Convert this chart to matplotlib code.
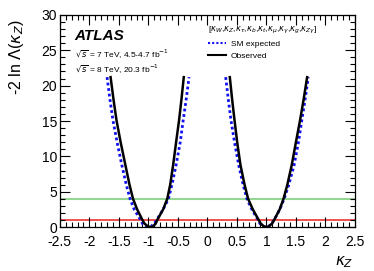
import matplotlib
matplotlib.use('Agg')
import matplotlib.pyplot as plt
from matplotlib.ticker import MultipleLocator, FormatStrFormatter
from matplotlib.lines import Line2D

plt.rcParams['font.family'] = ['Liberation Sans', 'DejaVu Sans']

# -2 ln Lambda values (two separate minima per curve)
nll_levels = [21.2, 18, 15.1, 12, 8.8, 6, 4, 2.5, 1, 0.5, 0.1, 0,
              0.1, 0.5, 1, 2.5, 4, 6, 8.8, 12, 15.1, 18, 21.2]

obs_kz_neg = [-1.64, -1.59, -1.54, -1.47, -1.39, -1.32, -1.26, -1.19, -1.10, -1.065, -1.01, -0.96,
              -0.92, -0.875, -0.85, -0.75, -0.68, -0.63, -0.58, -0.53, -0.48, -0.44, -0.40]
obs_kz_pos = [0.38, 0.42, 0.46, 0.505, 0.56, 0.63, 0.69, 0.77, 0.87, 0.905, 0.958, 1.00,
              1.042, 1.095, 1.13, 1.225, 1.29, 1.355, 1.43, 1.50, 1.57, 1.63, 1.69]
exp_kz_neg = [-1.70, -1.65, -1.60, -1.53, -1.45, -1.375, -1.31, -1.24, -1.13, -1.10, -1.045, -1.00,
              -0.955, -0.90, -0.86, -0.75, -0.66, -0.60, -0.53, -0.46, -0.41, -0.36, -0.31]
exp_kz_pos = [0.31, 0.355, 0.40, 0.46, 0.53, 0.605, 0.67, 0.753, 0.86, 0.89, 0.945, 0.99,
              1.035, 1.09, 1.13, 1.227, 1.30, 1.38, 1.47, 1.543, 1.60, 1.655, 1.71]

ref_levels = [1, 4]
ref_colors = ['#e8231f', '#95d695']

fig = plt.figure(figsize=(3.74, 2.71), dpi=100)
ax = fig.add_axes([0.160, 0.162, 0.789, 0.783])

for lvl, c in zip(ref_levels, ref_colors):
    ax.axhline(lvl, color=c, lw=1.1 if lvl == 1 else 1.5, zorder=1)

for kz in (exp_kz_neg, exp_kz_pos):
    ax.plot(kz, nll_levels, color='#1010f0', ls=(0, (1, 1)), lw=2.0, zorder=2)
for kz in (obs_kz_neg, obs_kz_pos):
    ax.plot(kz, nll_levels, color='black', lw=1.8, zorder=3)

ax.set_xlim(-2.5, 2.5)
ax.set_ylim(0, 30)
ax.xaxis.set_major_locator(MultipleLocator(0.5))
ax.xaxis.set_minor_locator(MultipleLocator(0.1))
ax.yaxis.set_major_locator(MultipleLocator(5))
ax.yaxis.set_minor_locator(MultipleLocator(1))
ax.xaxis.set_major_formatter(FormatStrFormatter('%g'))
ax.tick_params(which='both', direction='in', top=True, right=True, labelsize=10)
ax.tick_params(which='major', length=7, width=0.8)
ax.tick_params(which='minor', length=3.5, width=0.8)
ax.tick_params(axis='x', pad=6)
ax.tick_params(axis='y', pad=2)
for s in ax.spines.values():
    s.set_linewidth(0.9)

fig.text(0.045, 0.93, r'-2 ln $\Lambda$($\kappa_Z$)', rotation=90, ha='center', va='top', fontsize=11.5)
fig.text(0.945, 0.005, r'$\kappa_Z$', ha='right', va='bottom', fontsize=11)

ax.text(0.05, 0.9, 'ATLAS', transform=ax.transAxes, fontsize=11, fontweight='bold', fontstyle='italic', va='center')
ax.text(0.05, 0.815, r'$\sqrt{s}$ = 7 TeV, 4.5-4.7 fb$^{-1}$', transform=ax.transAxes, fontsize=6, va='center')
ax.text(0.05, 0.745, r'$\sqrt{s}$ = 8 TeV, 20.3 fb$^{-1}$', transform=ax.transAxes, fontsize=6, va='center')

header = r'[$\kappa_W$,$\kappa_Z$,$\kappa_\tau$,$\kappa_b$,$\kappa_t$,$\kappa_\mu$,$\kappa_\gamma$,$\kappa_g$,$\kappa_{Z\gamma}$]'
handles = [Line2D([], [], color='#1010f0', ls=(0, (1, 1)), lw=1.5),
           Line2D([], [], color='black', lw=1.5)]
leg = ax.legend(handles, ['SM expected', 'Observed'], title=header, loc='upper left',
                bbox_to_anchor=(0.49, 0.97), frameon=False, fontsize=6, title_fontsize=6,
                handlelength=2.2, handletextpad=0.6, labelspacing=0.5, borderaxespad=0)
leg._legend_box.align = 'left'

fig.savefig('out.png', dpi=100)
